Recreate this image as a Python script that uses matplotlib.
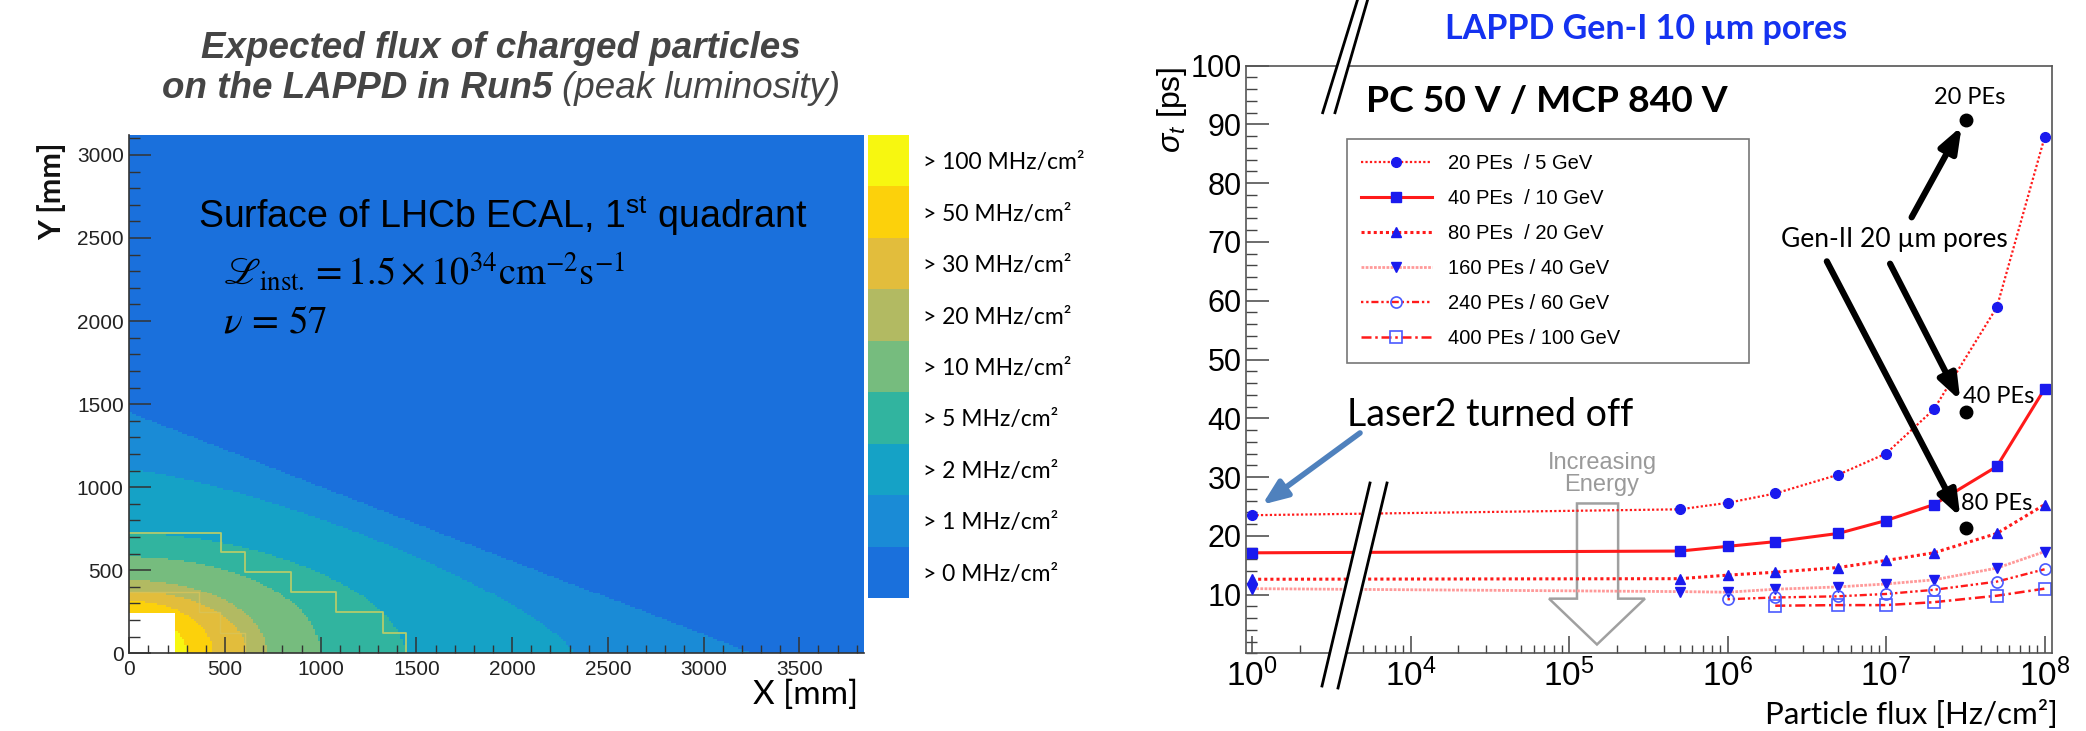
import numpy as np
import matplotlib
matplotlib.use('Agg')
import matplotlib.pyplot as plt
from matplotlib.colors import ListedColormap, BoundaryNorm
from matplotlib.ticker import FixedLocator, MultipleLocator, FuncFormatter, NullFormatter
from matplotlib.lines import Line2D
from matplotlib.patches import Polygon

plt.rcParams['font.family'] = ['Liberation Sans', 'DejaVu Sans']
plt.rcParams['mathtext.fontset'] = 'custom'
plt.rcParams['mathtext.rm'] = 'Liberation Sans'
plt.rcParams['mathtext.it'] = 'Liberation Sans:italic'
plt.rcParams['mathtext.bf'] = 'Liberation Sans:bold'

# ---------------- data: left panel (flux map) ----------------
flux_levels = [0, 1, 2, 5, 10, 20, 30, 50, 100]          # MHz/cm2 thresholds
level_colors = ['#1a70dc', '#1a8bd6', '#15a2c6', '#31b49f', '#76bc7e',
                '#b2ba62', '#e2bd3c', '#fcd10b', '#f7f710']
# extent of each region (levels > 1 ... > 100) along X and along Y axis, mm,
# and how convex its boundary looks (1 = straight, 2 = elliptical)
level_x_mm = [3250, 2320, 1440, 997, 718, 613, 438, 300]
level_y_mm = [1450, 1107, 725, 583, 443, 372, 312, 230]
level_shape = [1.0, 1.3, 1.8, 2.0, 2.0, 2.0, 2.0, 2.0]
beam_hole_mm = 240
ecal_x_max, ecal_y_max = 3840, 3120
outer_step_x = [0, 479, 479, 605, 605, 843, 843, 1080, 1080, 1324, 1324, 1446, 1446]
outer_step_y = [725, 725, 608, 608, 487, 487, 366, 366, 248, 248, 124, 124, 0]
inner_step_x = [0, 364, 364, 474, 474, 605, 605]
inner_step_y = [366, 366, 248, 248, 124, 124, 0]

# ---------------- data: right panel (time resolution) ----------------
flux_a = [1, 5e5, 1e6, 2e6, 5e6, 1e7, 2e7, 5e7, 1e8]
sig_20pe = [23.5, 24.5, 25.6, 27.2, 30.4, 34.0, 41.5, 58.9, 87.8]
sig_40pe = [17.1, 17.4, 18.2, 19.0, 20.4, 22.6, 25.3, 31.8, 45.0]
sig_80pe = [12.6, 12.7, 13.3, 13.8, 14.6, 15.8, 17.1, 20.4, 25.3]
sig_160pe = [11.0, 10.5, 10.4, 10.9, 11.3, 11.8, 12.5, 14.5, 17.3]
flux_b = [1e6, 2e6, 5e6, 1e7, 2e7, 5e7, 1e8]
sig_240pe = [9.2, 9.5, 9.7, 10.1, 10.8, 12.2, 14.3]
flux_c = [2e6, 5e6, 1e7, 2e7, 5e7, 1e8]
sig_400pe = [8.1, 8.2, 8.2, 8.7, 9.8, 11.0]
legend_labels = ['20 PEs  / 5 GeV', '40 PEs  / 10 GeV', '80 PEs  / 20 GeV',
                 '160 PEs / 40 GeV', '240 PEs / 60 GeV', '400 PEs / 100 GeV']
genii_flux = [3.2e7, 3.2e7, 3.2e7]
genii_sig = [90.8, 41.0, 21.3]
genii_labels = ['20 PEs', '40 PEs', '80 PEs']

W, H = 2086, 731
fig = plt.figure(figsize=(W / 100, H / 100), dpi=100)


def fx(px):
    return px / W


def fy(py):
    return 1 - py / H


SANS2 = ['Lato', 'DejaVu Sans']

# =================== LEFT PANEL ===================
axl = fig.add_axes([fx(129.3), fy(653.3), fx(864.3) - fx(129.3), (653.3 - 135) / H])
step = 12
xe = np.arange(0, ecal_x_max + step, step)
ye = np.arange(0, ecal_y_max + step, step)
xc = 0.5 * (xe[:-1] + xe[1:])
yc = 0.5 * (ye[:-1] + ye[1:])
XX, YY = np.meshgrid(xc, yc)
idx = np.zeros_like(XX)
for k, (a, b, p) in enumerate(zip(level_x_mm, level_y_mm, level_shape)):
    idx[(XX / a) ** p + (YY / b) ** p <= 1] = k + 1
idx = np.ma.masked_where((XX < beam_hole_mm) & (YY < beam_hole_mm), idx)
cmap = ListedColormap(level_colors)
norm = BoundaryNorm(np.arange(-0.5, len(level_colors) + 0.5), len(level_colors))
axl.pcolormesh(xe, ye, idx, cmap=cmap, norm=norm, rasterized=True)
axl.plot(outer_step_x, outer_step_y, color='#b3cc6c', lw=1.3)
axl.plot(inner_step_x, inner_step_y, color='#d9c45a', lw=1.0, alpha=0.8)
axl.set_xlim(0, ecal_x_max)
axl.set_ylim(0, ecal_y_max)
axl.xaxis.set_major_locator(MultipleLocator(500))
axl.xaxis.set_minor_locator(MultipleLocator(100))
axl.yaxis.set_major_locator(MultipleLocator(500))
axl.yaxis.set_minor_locator(MultipleLocator(100))
for s in ['top', 'right']:
    axl.spines[s].set_visible(False)
for s in ['left', 'bottom']:
    axl.spines[s].set_color('#333333')
    axl.spines[s].set_linewidth(1.2)
axl.tick_params(axis='x', which='major', direction='in', length=11.5, width=1.1, color='#333333',
                labelsize=15, pad=5)
axl.tick_params(axis='x', which='minor', direction='in', length=5.5, width=1.0, color='#333333')
axl.tick_params(axis='y', which='major', direction='in', length=16, width=1.1, color='#333333',
                labelsize=15, pad=4)
axl.tick_params(axis='y', which='minor', direction='in', length=8, width=1.0, color='#333333')
for lab in axl.get_xticklabels() + axl.get_yticklabels():
    lab.set_color('#222222')

axl.text(0.094, 0.845, r'Surface of LHCb ECAL, 1$^{\rm st}$ quadrant', transform=axl.transAxes,
         fontsize=27, color='black', va='center')
axl.text(0.128, 0.735, r'$\mathscr{L}_{\rm inst.} = 1.5\times10^{34}{\rm cm}^{-2}{\rm s}^{-1}$',
         transform=axl.transAxes, fontsize=27.5, math_fontfamily='stix', va='center')
axl.text(0.128, 0.638, r'$\nu\,=\,57$', transform=axl.transAxes, fontsize=28,
         math_fontfamily='stix', va='center')

fig.text(fx(52), fy(142), 'Y [mm]', rotation=90, ha='center', va='top', fontsize=22,
         family=SANS2, fontweight='bold', color='#111111')
fig.text(fx(858), fy(695), 'X [mm]', ha='right', va='center', fontsize=24, family=SANS2)

# titles
fig.text(fx(501), fy(49), 'Expected flux of charged particles', ha='center', va='center',
         fontsize=26.5, fontweight='bold', style='italic', color='#454545')
ta = fig.text(0, fy(88), 'on the LAPPD in Run5', ha='left', va='center', fontsize=26.5,
              fontweight='bold', style='italic', color='#454545')
tb = fig.text(0, fy(88), '(peak luminosity)', ha='left', va='center', fontsize=26.5,
              style='italic', color='#454545')
r = fig.canvas.get_renderer()
wa = ta.get_window_extent(r).width
wb = tb.get_window_extent(r).width
gap = 10
x0 = 501 - (wa + gap + wb) / 2
ta.set_x(fx(x0))
tb.set_x(fx(x0 + wa + gap))

# colour scale
cax = fig.add_axes([fx(868), fy(598), fx(909) - fx(868), (598 - 135) / H])
cax.pcolormesh([0, 1], np.arange(len(flux_levels) + 1),
               np.arange(len(flux_levels)).reshape(-1, 1), cmap=cmap, norm=norm)
cax.set_xlim(0, 1)
cax.set_ylim(0, len(flux_levels))
cax.set_xticks([])
cax.yaxis.tick_right()
cax.set_yticks(np.arange(len(flux_levels)) + 0.5)
cax.set_yticklabels(['> %d MHz/cm²' % v for v in flux_levels], family=SANS2, fontsize=16.5)
cax.tick_params(axis='y', length=0, pad=10)
for s in cax.spines.values():
    s.set_visible(False)

# =================== RIGHT PANEL ===================


def fwd(x):
    x = np.asarray(x, float)
    with np.errstate(divide='ignore', invalid='ignore'):
        L = np.log10(x)
    return np.where(L <= 0.5, L, np.where(L >= 3.6, L - 3.0, 0.5 + (L - 0.5) / 31.0))


def inv(u):
    u = np.asarray(u, float)
    with np.errstate(over='ignore'):
        return np.where(u <= 0.5, 10.0 ** u,
                        np.where(u >= 0.6, 10.0 ** (u + 3.0), 10.0 ** (0.5 + (u - 0.5) * 31.0)))


axr = fig.add_axes([fx(1246), fy(653.3), fx(2052) - fx(1246), (653.3 - 65.7) / H])
axr.set_xscale('function', functions=(fwd, inv))
axr.set_xlim(0.916, 1.114e8)
axr.set_ylim(0, 100)

blue = '#1a1aee'
red = '#ff1a1a'
h1, = axr.plot(flux_a, sig_20pe, color=red, lw=1.6, ls=(0, (1, 1)), marker='o', ms=7,
               mfc=blue, mec=blue)
h2, = axr.plot(flux_a, sig_40pe, color=red, lw=2.2, ls='-', marker='s', ms=6.5, mfc=blue, mec=blue)
h3, = axr.plot(flux_a, sig_80pe, color=red, lw=2.2, ls=(0, (1, 1)), marker='^', ms=7,
               mfc=blue, mec=blue)
h4, = axr.plot(flux_a, sig_160pe, color='#ff9a9a', lw=2.0, ls=(0, (1, 0.5)), marker='v', ms=7,
               mfc=blue, mec=blue)
h5, = axr.plot(flux_b, sig_240pe, color=red, lw=1.7, ls=(0, (1, 1.2, 1, 1.2, 3, 1.2)), marker='o',
               ms=8, mfc='none', mec='#4a5aff', mew=1.2)
h6, = axr.plot(flux_c, sig_400pe, color=red, lw=1.8, ls=(0, (4, 1.5, 1, 1.5)), marker='s', ms=8,
               mfc='none', mec='#4a5aff', mew=1.2)
axr.plot(genii_flux, genii_sig, ls='none', marker='o', ms=9, color='black')

leg = axr.legend([h1, h2, h3, h4, h5, h6], legend_labels, loc='upper left',
                 bbox_to_anchor=(0.125, 0.5003, 0.499, 0.3745), mode='expand', borderaxespad=0,
                 fontsize=14.5, numpoints=1, handlelength=3.5, handletextpad=0.8, labelspacing=0.8,
                 borderpad=0.72, fancybox=False, framealpha=1, edgecolor='#777777')
leg.get_frame().set_linewidth(1.2)

axr.yaxis.set_major_locator(FixedLocator([10, 20, 30, 40, 50, 60, 70, 80, 90, 100]))
axr.yaxis.set_minor_locator(MultipleLocator(2))
axr.xaxis.set_major_locator(FixedLocator([1, 1e4, 1e5, 1e6, 1e7, 1e8]))
minor_x = [2] + [k * 10 ** d for d in range(3, 8) for k in range(2, 10) if k * 10 ** d > 4500]
axr.xaxis.set_minor_locator(FixedLocator(minor_x))
axr.xaxis.set_major_formatter(FuncFormatter(lambda v, p: r'$10^{%d}$' % round(np.log10(v))))
axr.xaxis.set_minor_formatter(NullFormatter())
axr.tick_params(axis='y', which='major', direction='in', length=16.5, width=1.1, color='#444444',
                labelsize=22, pad=3)
axr.tick_params(axis='y', which='minor', direction='in', length=8, width=1.0, color='#444444')
axr.tick_params(axis='x', which='major', direction='in', length=12, width=1.1, color='#444444',
                labelsize=24, pad=4)
axr.tick_params(axis='x', which='minor', direction='in', length=6, width=1.0, color='#444444')
for s in axr.spines.values():
    s.set_color('#555555')
    s.set_linewidth(1.2)

fig.text(fx(1172), fy(66), r'$\sigma_{t}$ [ps]', rotation=90, ha='center', va='top', fontsize=23)
fig.text(fx(2058), fy(729), 'Particle flux [Hz/cm²]', ha='right', va='bottom', fontsize=22.5,
         family=SANS2)

# arrows (Gen-II)
arrow_kw = dict(arrowstyle='-|>,head_length=0.75,head_width=0.28', lw=4.5, color='black',
                shrinkA=0, shrinkB=0, mutation_scale=20)
axr.annotate('', xy=(3.0e7, 89.7), xytext=(1.45e7, 74.2), arrowprops=arrow_kw)
axr.annotate('', xy=(2.94e7, 43.0), xytext=(1.06e7, 66.3), arrowprops=arrow_kw)
axr.annotate('', xy=(2.94e7, 23.2), xytext=(4.23e6, 66.7), arrowprops=arrow_kw)
# Laser2 arrow
axr.annotate('', xy=(1.16, 25.3), xytext=(4800, 37.5),
             arrowprops=dict(arrowstyle='-|>,head_length=0.75,head_width=0.3', lw=4.0,
                             color='#4f81bd', shrinkA=0, shrinkB=0, mutation_scale=20))
# hollow "increasing energy" arrow
hollow = Polygon([(1.122e5, 25.5), (2.04e5, 25.5), (2.04e5, 9.3), (3.01e5, 9.3), (1.50e5, 1.5),
                  (7.48e4, 9.3), (1.122e5, 9.3)], closed=True, fill=False, edgecolor='#a0a0a0',
                 lw=1.8, zorder=1)
axr.add_patch(hollow)

fig.text(fx(1602), fy(474), 'Increasing\nEnergy', ha='center', va='center', fontsize=17,
         color='#9a9a9a', linespacing=1.0)
fig.text(fx(1347), fy(415), 'Laser2 turned off', ha='left', va='center', fontsize=27,
         family=SANS2)
fig.text(fx(1366), fy(101), 'PC 50 V / MCP 840 V', ha='left', va='center', fontsize=26.8,
         family=SANS2, fontweight='bold')
fig.text(fx(1646), fy(29), 'LAPPD Gen-I 10 µm pores', ha='center', va='center', fontsize=24.5,
         family=SANS2, fontweight='bold', color='#1432f0')
fig.text(fx(1894), fy(240), 'Gen-II 20 µm pores', ha='center', va='center', fontsize=19,
         family=SANS2)
for lab, (px, py) in zip(genii_labels, [(1970, 98), (1999, 396), (1997, 503.5)]):
    fig.text(fx(px), fy(py), lab, ha='center', va='center', fontsize=17, family=SANS2)


# axis-break marks
def brk(p1a, p1b, p2a, p2b):
    poly = Polygon([(fx(p1a[0]), fy(p1a[1])), (fx(p1b[0]), fy(p1b[1])),
                    (fx(p2b[0]), fy(p2b[1])), (fx(p2a[0]), fy(p2a[1]))], closed=True,
                   facecolor='white', edgecolor='none', transform=fig.transFigure, zorder=5)
    fig.add_artist(poly)
    for a, b in [(p1a, p1b), (p2a, p2b)]:
        fig.add_artist(Line2D([fx(a[0]), fx(b[0])], [fy(a[1]), fy(b[1])], color='black', lw=2.0,
                              transform=fig.transFigure, zorder=6))


brk((1370, 483), (1322, 686), (1387, 483), (1338, 688))
brk((1359, -5), (1322.7, 112.7), (1369, -5), (1335, 112.7))

fig.savefig('out.png', dpi=100)
